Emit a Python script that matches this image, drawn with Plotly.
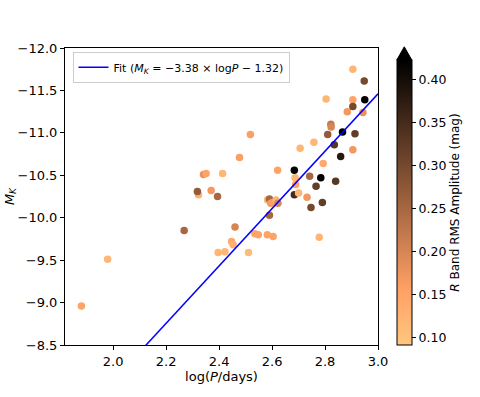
import plotly.graph_objects as go

# log period, absolute K magnitude, R band rms amplitude
logP = [1.88, 1.979, 2.268, 2.322, 2.318, 2.341, 2.351, 2.370, 2.394, 2.413,
        2.396, 2.422, 2.447, 2.453, 2.460, 2.477, 2.511, 2.518, 2.535, 2.548,
        2.582, 2.604, 2.583, 2.590, 2.590, 2.595, 2.603, 2.615, 2.622, 2.621,
        2.684, 2.684, 2.687, 2.689, 2.700, 2.706, 2.732, 2.742, 2.747, 2.758,
        2.766, 2.784, 2.778, 2.790, 2.793, 2.804, 2.810, 2.822, 2.823, 2.835,
        2.840, 2.859, 2.866, 2.884, 2.905, 2.905, 2.905, 2.905, 2.913, 2.943,
        2.948, 2.950]
MK = [-8.96, -9.51, -9.85, -10.27, -10.31, -10.51, -10.52, -10.32, -10.25, -10.52,
      -9.59, -9.60, -9.72, -9.68, -9.89, -10.71, -9.59, -10.98, -9.81, -9.80,
      -9.80, -9.78, -10.21, -10.22, -10.03, -10.17, -10.18, -10.21, -10.17, -10.56,
      -10.56, -10.27, -10.47, -10.39, -10.29, -10.82, -10.24, -10.49, -10.12, -10.89,
      -10.37, -10.47, -9.77, -10.18, -10.64, -11.40, -10.98, -11.10, -11.07, -10.86,
      -10.43, -10.72, -11.01, -11.25, -11.75, -11.39, -11.31, -10.80, -10.99, -11.24,
      -11.61, -11.39]
amp = [0.15, 0.12, 0.25, 0.13, 0.27, 0.18, 0.15, 0.17, 0.25, 0.12,
       0.12, 0.12, 0.14, 0.13, 0.20, 0.16, 0.11, 0.16, 0.15, 0.15,
       0.15, 0.15, 0.12, 0.25, 0.25, 0.17, 0.16, 0.12, 0.20, 0.15,
       0.42, 0.35, 0.12, 0.15, 0.12, 0.12, 0.17, 0.25, 0.30, 0.12,
       0.32, 0.42, 0.12, 0.32, 0.14, 0.12, 0.27, 0.22, 0.20, 0.33,
       0.33, 0.38, 0.42, 0.17, 0.12, 0.15, 0.30, 0.17, 0.32, 0.18,
       0.30, 0.42]

fit_slope = -3.38
fit_intercept = -1.32
fit_x = [1.8, 3.0]

x_ticks = [2.0, 2.2, 2.4, 2.6, 2.8, 3.0]
y_ticks = [-12.0, -11.5, -11.0, -10.5, -10.0, -9.5, -9.0, -8.5]
cbar_ticks = [0.10, 0.15, 0.20, 0.25, 0.30, 0.35, 0.40]

# copper_r colormap
copper_r = []
for i in range(11):
    t = i / 10
    c = 1 - t
    r = min(1, 1.25 * c) * 255
    g = 0.7812 * c * 255
    b = 0.4975 * c * 255
    copper_r.append([t, "rgb(%d,%d,%d)" % (r, g, b)])

font = "DejaVu Sans"

fig = go.Figure()
fig.add_trace(go.Scatter(
    x=logP, y=MK, mode="markers", showlegend=False,
    marker=dict(size=7.5, color=amp, colorscale=copper_r, cmin=0.0915, cmax=0.4224,
                line=dict(width=0),
                colorbar=dict(x=1.06, xanchor="left", xpad=0, y=0.9596, yanchor="top", ypad=0,
                              len=285, lenmode="pixels", thickness=15,
                              outlinewidth=1, outlinecolor="black",
                              tickvals=cbar_ticks, ticktext=["%.2f" % v for v in cbar_ticks],
                              ticks="outside", ticklen=4, tickcolor="black",
                              tickfont=dict(family=font, size=12.5, color="black"),
                              title=dict(text="<i>R</i> Band RMS Amplitude (mag)", side="right",
                                         font=dict(family=font, size=12, color="black"))))))

fit_y = [fit_slope * v + fit_intercept for v in fit_x]
fig.add_trace(go.Scatter(
    x=fit_x, y=fit_y, mode="lines", line=dict(color="blue", width=1.5),
    name="Fit (<i>M</i><sub><i>K</i></sub> = \u22123.38 \u00d7 log<i>P</i> \u2212 1.32)"))

# extend-max triangle on top of the colorbar
fig.add_shape(type="path", xref="paper", yref="paper",
              path="M 1.060 0.9596 L 1.108 0.9596 L 1.084 1.004 Z",
              fillcolor="black", line=dict(color="black", width=1))

axis = dict(showline=True, mirror=True, linecolor="black", linewidth=1, automargin=False,
            ticks="outside", ticklen=4, tickcolor="black", showgrid=False, zeroline=False,
            tickfont=dict(family=font, size=13, color="black"))

fig.update_layout(
    width=480, height=397,
    margin=dict(l=65, r=102, t=48, b=52),
    plot_bgcolor="white", paper_bgcolor="white",
    xaxis=dict(range=[1.818, 3.0], tickvals=x_ticks, ticktext=["%.1f" % v for v in x_ticks],
               title=dict(text="log(<i>P</i>/days)", font=dict(family=font, size=13, color="black"), standoff=0),
               **axis),
    yaxis=dict(range=[-8.5, -12.0], tickvals=y_ticks, ticktext=["\u2212%.1f" % -v for v in y_ticks],
               title=dict(text="<i>M</i><sub><i>K</i></sub>", font=dict(family=font, size=13, color="black"), standoff=0),
               **axis),
    legend=dict(x=0.024, y=0.987, xanchor="left", yanchor="top", itemwidth=30,
                bgcolor="rgba(255,255,255,0.8)", bordercolor="#cccccc", borderwidth=1,
                font=dict(family=font, size=11, color="black")),
)

# drop the browser's default body margin so the figure sits at the page corner
fig.write_html("out.html", config={"displayModeBar": False},
               post_script="document.body.style.margin='0';")
